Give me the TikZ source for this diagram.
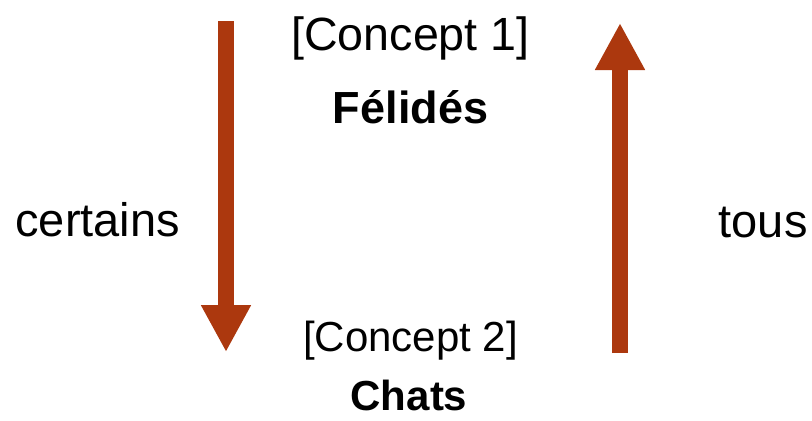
\documentclass[tikz,border=0pt]{standalone}
\usepackage{fontspec}
\setmainfont{Liberation Sans}
\usetikzlibrary{arrows.meta}
\definecolor{rust}{RGB}{172,56,14}
\begin{document}
\begin{tikzpicture}[
  x=0.5pt, y=-0.5pt,
  concept/.style={anchor=base, inner sep=0pt, font=\fontsize{23.3}{28}\selectfont},
  conceptb/.style={anchor=base, inner sep=0pt, font=\fontsize{21}{25}\selectfont},
  term/.style={anchor=base, inner sep=0pt, font=\fontsize{22.5}{27}\selectfont\bfseries},
  termb/.style={anchor=base, inner sep=0pt, font=\fontsize{21}{25}\selectfont\bfseries},
  quant/.style={inner sep=0pt, font=\fontsize{23.5}{28}\selectfont},
  bigarrow/.style={-{Triangle[width=23.5pt, length=23.5pt]}, line width=8pt, rust},
]
\useasboundingbox (0,0) rectangle (812,420);

% Concepts
\node[concept] (c1) at (410.5,50) {[Concept 1]};
\node[term] (felides) at (410.5,123) {Félidés};
\node[conceptb] (c2) at (410.5,351) {[Concept 2]};
\node[termb] (chats) at (409,410) {Chats};

% Quantifiers
\node[quant, anchor=base west] (certains) at (15,236) {certains};
\node[quant, anchor=base east] (tous) at (808,237) {tous};

% Arrow ends
\coordinate (downtop) at (226,21);
\coordinate (downtip) at (226,352);
\coordinate (upfoot) at (620,353);
\coordinate (uptip) at (620,23);

% Arrows
\draw[bigarrow] (downtop) -- (downtip);
\draw[bigarrow] (upfoot) -- (uptip);
\end{tikzpicture}
\end{document}
